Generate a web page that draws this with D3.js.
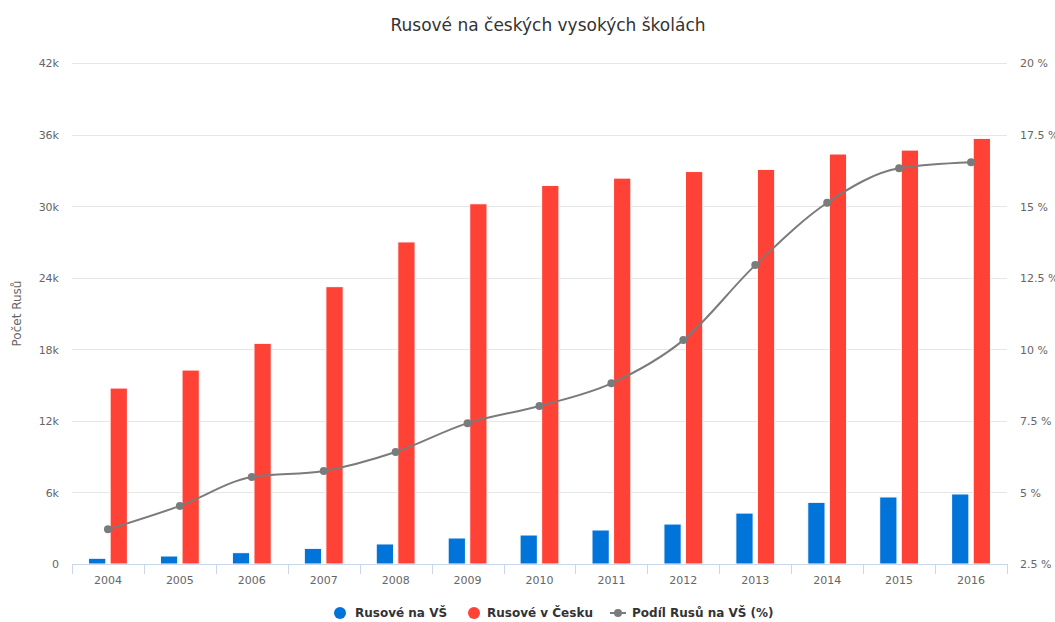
<!DOCTYPE html>
<meta charset="utf-8">
<style>
  body { margin: 0; background: #fff; }
  text { font-family: "DejaVu Sans", Verdana, sans-serif; }
</style>
<body>
  <div id="chart"></div>
</body>
<script src="https://cdn.jsdelivr.net/npm/d3@7"></script>
<script>

// data
var years = ["2004", "2005", "2006", "2007", "2008", "2009", "2010", "2011", "2012", "2013", "2014", "2015", "2016"];
var rusoveNaVS = [480, 670, 950, 1310, 1680, 2180, 2430, 2850, 3350, 4270, 5170, 5620, 5870];
var rusoveVCesku = [14750, 16260, 18500, 23250, 27000, 30200, 31740, 32350, 32900, 33080, 34370, 34700, 35680];
var podilRusu = [3.71, 4.53, 5.54, 5.75, 6.41, 7.42, 8.02, 8.81, 10.32, 12.94, 15.12, 16.32, 16.53];
var leftTicks = [0, 6000, 12000, 18000, 24000, 30000, 36000, 42000];
var rightTicks = [2.5, 5, 7.5, 10, 12.5, 15, 17.5, 20];

var width = 1055, height = 622;
var margin = {top: 63, right: 48, bottom: 58, left: 72};

var blue = "#0074d9", red = "#ff4136", grey = "#7b7b7b";

var svg = d3.select("#chart").append("svg")
    .attr("width", width)
    .attr("height", height);

var x = d3.scaleBand()
    .domain(years)
    .range([margin.left, width - margin.right]);

var x1 = d3.scaleBand()
    .domain(["vs", "cesko"])
    .range([x.bandwidth() * 0.2, x.bandwidth() * 0.8])
    .paddingInner(0.2)
    .paddingOuter(0.1);

var y = d3.scaleLinear()
    .domain([0, 42000])
    .range([height - margin.bottom, margin.top]);

var y2 = d3.scaleLinear()
    .domain([2.5, 20])
    .range([height - margin.bottom, margin.top]);

// title
svg.append("text")
    .attr("x", 548)
    .attr("y", 31)
    .attr("text-anchor", "middle")
    .style("font-size", "17px")
    .style("fill", "#333")
    .text("Rusové na českých vysokých školách");

// gridlines
svg.append("g")
  .selectAll("line")
  .data(leftTicks)
  .join("line")
    .attr("x1", margin.left)
    .attr("x2", width - margin.right)
    .attr("y1", d => Math.round(y(d)) + 0.5)
    .attr("y2", d => Math.round(y(d)) + 0.5)
    .attr("stroke", "#e6e6e6");

// left axis
var leftAxis = svg.append("g")
    .attr("transform", "translate(" + (margin.left - 10) + ",0)")
    .call(d3.axisLeft(y).tickValues(leftTicks).tickSize(0)
      .tickFormat(d => d === 0 ? "0" : (d / 1000) + "k"));
leftAxis.select(".domain").remove();
leftAxis.selectAll("text")
    .attr("dy", "0.35em")
    .style("font-size", "11px")
    .style("font-family", "DejaVu Sans")
    .style("fill", "#666");

// right axis
var rightAxis = svg.append("g")
    .attr("transform", "translate(" + (width - margin.right + 10) + ",0)")
    .call(d3.axisRight(y2).tickValues(rightTicks).tickSize(0)
      .tickFormat(d => d + " %"));
rightAxis.select(".domain").remove();
rightAxis.selectAll("text")
    .attr("dy", "0.35em")
    .style("font-size", "11px")
    .style("font-family", "DejaVu Sans")
    .style("fill", "#666");

// y axis title
svg.append("text")
    .attr("transform", "translate(21," + ((margin.top + height - margin.bottom) / 2) + ") rotate(-90)")
    .attr("text-anchor", "middle")
    .style("font-size", "12px")
    .style("fill", "#666")
    .text("Počet Rusů");

// bars
var groups = svg.append("g")
  .selectAll("g")
  .data(years)
  .join("g")
    .attr("transform", d => "translate(" + x(d) + ",0)");

groups.append("rect")
    .attr("x", x1("vs"))
    .attr("width", x1.bandwidth())
    .attr("y", (d, i) => y(rusoveNaVS[i]))
    .attr("height", (d, i) => y(0) - y(rusoveNaVS[i]))
    .attr("fill", blue)
    .attr("stroke", "#fff")
    .attr("stroke-width", 1);

groups.append("rect")
    .attr("x", x1("cesko"))
    .attr("width", x1.bandwidth())
    .attr("y", (d, i) => y(rusoveVCesku[i]))
    .attr("height", (d, i) => y(0) - y(rusoveVCesku[i]))
    .attr("fill", red)
    .attr("stroke", "#fff")
    .attr("stroke-width", 1);

// x axis
var xAxis = svg.append("g")
    .attr("transform", "translate(0," + (height - margin.bottom) + ")");
xAxis.append("line")
    .attr("x1", margin.left)
    .attr("x2", width - margin.right)
    .attr("y1", 0.5).attr("y2", 0.5)
    .attr("stroke", "#ccd6eb");
xAxis.selectAll(".tk")
  .data(years.concat(["end"]))
  .join("line")
    .attr("class", "tk")
    .attr("x1", (d, i) => Math.round(margin.left + i * x.step()) + 0.5)
    .attr("x2", (d, i) => Math.round(margin.left + i * x.step()) + 0.5)
    .attr("y1", 0)
    .attr("y2", 10)
    .attr("stroke", "#ccd6eb");
xAxis.selectAll("text")
  .data(years)
  .join("text")
    .attr("x", d => x(d) + x.bandwidth() / 2)
    .attr("y", 20)
    .attr("text-anchor", "middle")
    .style("font-size", "11px")
    .style("fill", "#666")
    .text(d => d);

// line
var line = d3.line()
    .x((d, i) => x(years[i]) + x.bandwidth() / 2)
    .y(d => y2(d))
    .curve(d3.curveMonotoneX);

svg.append("path")
    .datum(podilRusu)
    .attr("d", line)
    .attr("fill", "none")
    .attr("stroke", grey)
    .attr("stroke-width", 2);

svg.append("g")
  .selectAll("circle")
  .data(podilRusu)
  .join("circle")
    .attr("cx", (d, i) => x(years[i]) + x.bandwidth() / 2)
    .attr("cy", d => y2(d))
    .attr("r", 4)
    .attr("fill", grey);

// legend
var legend = svg.append("g");
var ly = 613;
legend.append("circle").attr("cx", 340).attr("cy", ly).attr("r", 6).attr("fill", blue);
legend.append("text").attr("x", 355).attr("y", ly).attr("dy", "0.35em")
    .style("font-size", "12px").style("font-weight", "bold").style("fill", "#333")
    .text("Rusové na VŠ");
legend.append("circle").attr("cx", 474).attr("cy", ly).attr("r", 6).attr("fill", red);
legend.append("text").attr("x", 487).attr("y", ly).attr("dy", "0.35em")
    .style("font-size", "12px").style("font-weight", "bold").style("fill", "#333")
    .text("Rusové v Česku");
legend.append("line").attr("x1", 610).attr("x2", 626).attr("y1", ly).attr("y2", ly)
    .attr("stroke", grey).attr("stroke-width", 2);
legend.append("circle").attr("cx", 618).attr("cy", ly).attr("r", 4).attr("fill", grey);
legend.append("text").attr("x", 632).attr("y", ly).attr("dy", "0.35em")
    .style("font-size", "12px").style("font-weight", "bold").style("fill", "#333")
    .text("Podíl Rusů na VŠ (%)");

</script>
